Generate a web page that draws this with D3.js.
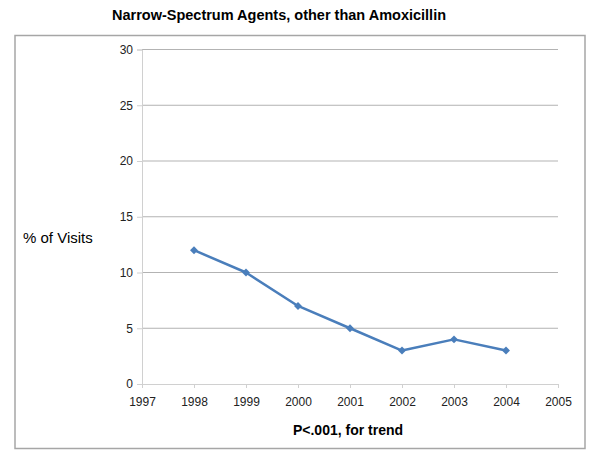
<!DOCTYPE html>
<html><head><meta charset="utf-8">
<script src="https://cdn.jsdelivr.net/npm/d3@7"></script>
<style>body{margin:0;background:#fff}svg text{font-family:"Liberation Sans",Arial,sans-serif}</style>
</head><body>
<svg id="c" width="600" height="465"></svg>
<script>
const years = [1998, 1999, 2000, 2001, 2002, 2003, 2004];
const values = [12, 10, 7, 5, 3, 4, 3];
const xTicks = [1997, 1998, 1999, 2000, 2001, 2002, 2003, 2004, 2005];
const yTicks = [0, 5, 10, 15, 20, 25, 30];
const title = "Narrow-Spectrum Agents, other than Amoxicillin";
const yTitle = "% of Visits";
const xTitle = "P<.001, for trend";

const svg = d3.select("#c");
const x = d3.scaleLinear().domain([1997, 2005]).range([142, 558]);
const y = d3.scaleLinear().domain([0, 30]).range([384, 49.5]);

svg.append("rect").attr("x", 15).attr("y", 35.5).attr("width", 570).attr("height", 413)
  .attr("fill", "none").attr("stroke", "#a6a6a6").attr("stroke-width", 1.5);

svg.append("text").attr("x", 279).attr("y", 20).attr("text-anchor", "middle")
  .attr("font-size", 14.5).attr("font-weight", "bold").text(title);

// gridlines
svg.append("g").selectAll("line").data(yTicks.filter(d => d > 0)).join("line")
  .attr("x1", x(1997)).attr("x2", x(2005)).attr("y1", d => y(d)).attr("y2", d => y(d))
  .attr("stroke", "#b3b3b3").attr("stroke-width", 1);

const yAxis = svg.append("g").attr("transform", `translate(${x(1997)},0)`)
  .call(d3.axisLeft(y).tickValues(yTicks).tickSize(5).tickPadding(4));
const xAxis = svg.append("g").attr("transform", `translate(0,${y(0)})`)
  .call(d3.axisBottom(x).tickValues(xTicks).tickFormat(d3.format("d")).tickSize(4).tickPadding(9));
[yAxis, xAxis].forEach(a => {
  a.select(".domain").attr("stroke", "#d0d0d0");
  a.selectAll(".tick line").attr("stroke", "#d0d0d0");
  a.selectAll(".tick text").attr("font-size", 12).attr("fill", "#222")
    .attr("font-family", '"Liberation Sans",Arial,sans-serif');
});

svg.append("text").attr("x", 23).attr("y", 243).attr("font-size", 15).text(yTitle);
svg.append("text").attr("x", 348).attr("y", 434.5).attr("text-anchor", "middle")
  .attr("font-size", 14).attr("font-weight", "bold").text(xTitle);

const line = d3.line().x((d, i) => x(years[i])).y(d => y(d));
svg.append("path").datum(values).attr("d", line).attr("fill", "none")
  .attr("stroke", "#4a7ebb").attr("stroke-width", 2.5).attr("stroke-linejoin", "round");

svg.append("g").selectAll("path").data(values).join("path")
  .attr("d", d3.symbol(d3.symbolDiamond2, 40)())
  .attr("transform", (d, i) => `translate(${x(years[i])},${y(d)})`)
  .attr("fill", "#4a7ebb");
</script>
</body></html>
